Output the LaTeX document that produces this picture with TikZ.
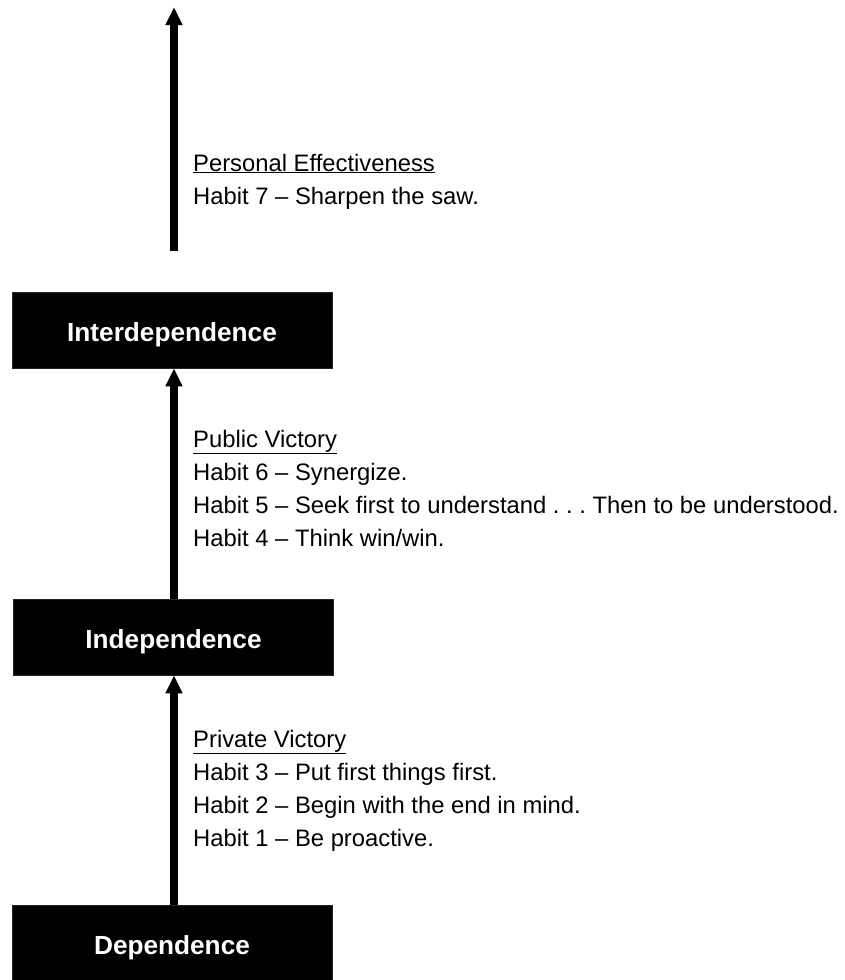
\documentclass[tikz,border=0pt]{standalone}
\usepackage{fontspec}
\setmainfont{Liberation Sans}
\frenchspacing
\usetikzlibrary{arrows.meta}
\begin{document}
\begin{tikzpicture}[x=1pt,y=-1pt,
  stagebox/.style={draw=black!85, line width=0.8pt, fill=black, text=white,
    minimum width=320pt, minimum height=76pt, inner sep=0pt,
    text height=23pt, text depth=0pt,
    font=\fontsize{26.2}{30}\selectfont\bfseries},
  habit/.style={anchor=base west, inner sep=0pt, font=\fontsize{23.8}{28}\selectfont},
  growth/.style={line width=8pt, -{Triangle[length=18pt,width=16pt]}}]
\useasboundingbox (0,0) rectangle (845,980);
\node[stagebox] (inter) at (172,330) {Interdependence};
\node[stagebox] (indep) at (173.5,637) {Independence};
\node[stagebox] (dep) at (172,943) {Dependence};
\coordinate (ax) at (174,0);
\coordinate (topS) at (174,251);
\coordinate (topE) at (174,7);
\draw[growth] (topS) -- (topE);
\draw[growth] (indep.north -| ax) -- (inter.south -| ax);
\draw[growth] (dep.north -| ax) -- (indep.south -| ax);
\node[habit] (pe) at (193,171) {\underline{Personal Effectiveness}};
\node[habit] (h7) at (193,204) {Habit 7 – Sharpen the saw.};
\node[habit] (pub) at (193,447) {\underline{Public Victory}};
\node[habit] (h6) at (193,480) {Habit 6 – Synergize.};
\node[habit] (h5) at (193,513) {Habit 5 – Seek first to understand . . . Then to be understood.};
\node[habit] (h4) at (193,546) {Habit 4 – Think win/win.};
\node[habit] (priv) at (193,747) {\underline{Private Victory}};
\node[habit] (h3) at (193,780) {Habit 3 – Put first things first.};
\node[habit] (h2) at (193,813) {Habit 2 – Begin with the end in mind.};
\node[habit] (h1) at (193,846) {Habit 1 – Be proactive.};
\end{tikzpicture}
\end{document}
